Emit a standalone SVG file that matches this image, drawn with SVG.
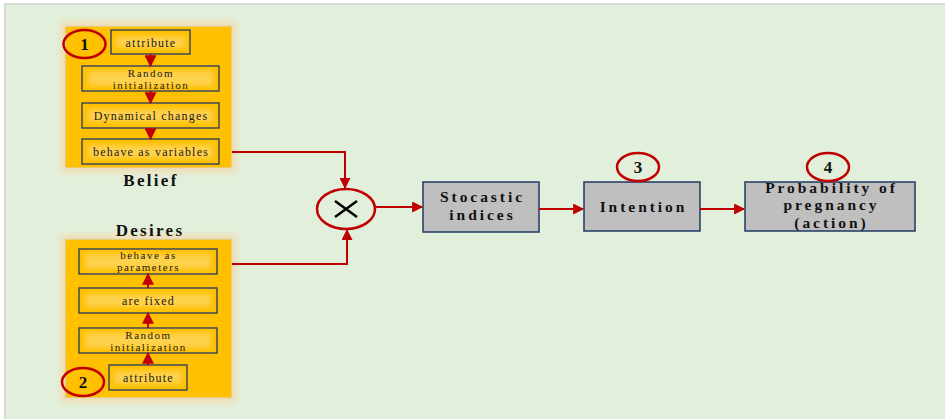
<svg xmlns="http://www.w3.org/2000/svg" width="945" height="419" viewBox="0 0 945 419">
  <style>
    .panel { fill: #FFC000; stroke: #d9d9d9; stroke-width: 1; }
    .step { fill: #FFC000; stroke: #1F3864; stroke-width: 1.3; }
    .stepglow { fill: #FFD24D; }
    .stage { fill: #BFBFBF; stroke: #1F3864; stroke-width: 1.5; }
    .badge { fill: none; stroke: #C00000; stroke-width: 2.5; }
    .link { fill: none; stroke: #C00000; stroke-width: 2; }
    .small { font-family: "Liberation Serif", "Times New Roman", serif; font-size: 12px; letter-spacing: 1.2px; fill: #1a1a1a; text-anchor: middle; }
    .pair { font-size: 11px; letter-spacing: 1.5px; }
    .bold { font-family: "Liberation Serif", "Times New Roman", serif; font-weight: bold; font-size: 17px; letter-spacing: 2.3px; fill: #111; text-anchor: middle; }
    .stagetext { font-size: 15.5px; letter-spacing: 2.95px; }
    .num { font-family: "Liberation Serif", "Times New Roman", serif; font-weight: bold; font-size: 17px; fill: #111; text-anchor: middle; }
  </style>
  <defs>
    <marker id="arrow" viewBox="0 0 10 10" refX="9" refY="5" markerWidth="6.5" markerHeight="5.5" orient="auto">
      <path d="M0,0 L10,5 L0,10 z" fill="#C00000"/>
    </marker>
    <marker id="arrowSm" viewBox="0 0 10 10" refX="9" refY="5" markerWidth="6" markerHeight="6" orient="auto">
      <path d="M0,0 L10,5 L0,10 z" fill="#C00000"/>
    </marker>
    <filter id="halo" x="-20%" y="-20%" width="140%" height="140%">
      <feGaussianBlur stdDeviation="3"/>
    </filter>
    <filter id="soft" x="-10%" y="-30%" width="120%" height="160%">
      <feGaussianBlur stdDeviation="2.5"/>
    </filter>
  </defs>

  <!-- canvas -->
  <rect x="0" y="0" width="945" height="419" fill="#ffffff"/>
  <rect x="5" y="4" width="945" height="420" fill="#E2EFDA" stroke="#cfcfcf" stroke-width="1.5"/>

  <!-- Belief panel -->
  <g id="belief">
    <rect x="61" y="22" width="175" height="150" fill="#f2dcb0" filter="url(#halo)"/>
    <rect class="panel" x="65" y="26" width="167" height="142"/>
    <g id="belief-attribute">
      <rect class="step" x="111" y="30" width="79" height="24"/>
      <rect class="stepglow" x="116" y="36" width="69" height="12" filter="url(#soft)"/>
      <text class="small" x="151" y="46.5">attribute</text>
    </g>
    <g id="belief-random">
      <rect class="step" x="82" y="66" width="137" height="25"/>
      <rect class="stepglow" x="88" y="71" width="125" height="15" filter="url(#soft)"/>
      <text class="small pair" x="151" y="76.5">Random</text>
      <text class="small pair" x="151" y="88.5">initialization</text>
    </g>
    <g id="belief-dynamic">
      <rect class="step" x="82" y="103" width="137" height="25"/>
      <rect class="stepglow" x="88" y="109" width="125" height="13" filter="url(#soft)"/>
      <text class="small" x="151" y="119.5">Dynamical changes</text>
    </g>
    <g id="belief-variables">
      <rect class="step" x="82" y="139" width="137" height="25"/>
      <rect class="stepglow" x="88" y="145" width="125" height="13" filter="url(#soft)"/>
      <text class="small" x="151" y="155.5">behave as variables</text>
    </g>
    <g id="badge-1">
      <ellipse class="badge" cx="84.5" cy="44" rx="21" ry="14"/>
      <text class="num" x="84.5" y="50">1</text>
    </g>
    <text class="bold" x="151" y="186">Belief</text>
  </g>

  <!-- Desires panel -->
  <g id="desires">
    <rect x="61" y="235" width="175" height="167" fill="#f2dcb0" filter="url(#halo)"/>
    <rect class="panel" x="65" y="239" width="167" height="159"/>
    <text class="bold" x="150" y="235.5">Desires</text>
    <g id="desires-parameters">
      <rect class="step" x="79" y="249" width="138" height="25"/>
      <rect class="stepglow" x="85" y="254" width="126" height="15" filter="url(#soft)"/>
      <text class="small pair" x="148.5" y="259">behave as</text>
      <text class="small pair" x="148.5" y="271">parameters</text>
    </g>
    <g id="desires-fixed">
      <rect class="step" x="79" y="288" width="138" height="25"/>
      <rect class="stepglow" x="85" y="294" width="126" height="13" filter="url(#soft)"/>
      <text class="small" x="148.5" y="304.5">are fixed</text>
    </g>
    <g id="desires-random">
      <rect class="step" x="79" y="328" width="138" height="25"/>
      <rect class="stepglow" x="85" y="333" width="126" height="15" filter="url(#soft)"/>
      <text class="small pair" x="148.5" y="338.5">Random</text>
      <text class="small pair" x="148.5" y="350.5">initialization</text>
    </g>
    <g id="desires-attribute">
      <rect class="step" x="109" y="365" width="78" height="25"/>
      <rect class="stepglow" x="114" y="371" width="68" height="13" filter="url(#soft)"/>
      <text class="small" x="148.5" y="381.5">attribute</text>
    </g>
    <g id="badge-2">
      <ellipse class="badge" cx="83" cy="382" rx="21" ry="14"/>
      <text class="num" x="83" y="388">2</text>
    </g>
  </g>

  <!-- product node -->
  <g id="product">
    <ellipse cx="346" cy="209" rx="29" ry="20" fill="#E2EFDA" stroke="#C00000" stroke-width="2.5"/>
    <path d="M335,201 L357,217 M357,201 L335,217" stroke="#000" stroke-width="2.5" fill="none"/>
  </g>

  <g id="stocastic">
    <rect class="stage" x="423" y="182" width="116" height="50"/>
    <text class="bold stagetext" x="482.5" y="202">Stocastic</text>
    <text class="bold stagetext" x="482.5" y="219.5">indices</text>
  </g>

  <g id="intention">
    <rect class="stage" x="584" y="182" width="116" height="49"/>
    <text class="bold stagetext" x="643.5" y="211.5">Intention</text>
    <ellipse class="badge" cx="638" cy="167" rx="21" ry="14"/>
    <text class="num" x="638" y="173">3</text>
  </g>

  <g id="probability">
    <rect class="stage" x="745" y="182" width="170" height="49"/>
    <text class="bold stagetext" x="831.5" y="193">Probability of</text>
    <text class="bold stagetext" x="831.5" y="210.3">pregnancy</text>
    <text class="bold stagetext" x="831.5" y="227.6">(action)</text>
    <ellipse class="badge" cx="828" cy="167" rx="21" ry="14"/>
    <text class="num" x="828" y="173">4</text>
  </g>

  <!-- connectors -->
  <g id="connectors">
    <path class="link" d="M150.5,54 V66" marker-end="url(#arrowSm)" stroke-width="1.5"/>
    <path class="link" d="M150.5,91 V103" marker-end="url(#arrowSm)" stroke-width="1.5"/>
    <path class="link" d="M150.5,128 V139" marker-end="url(#arrowSm)" stroke-width="1.5"/>
    <path class="link" d="M148,365 V353" marker-end="url(#arrowSm)" stroke-width="1.5"/>
    <path class="link" d="M148,328 V313" marker-end="url(#arrowSm)" stroke-width="1.5"/>
    <path class="link" d="M148,288 V274" marker-end="url(#arrowSm)" stroke-width="1.5"/>
    <path class="link" d="M232,152 H345 V188" marker-end="url(#arrow)"/>
    <path class="link" d="M232,264 H347 V230" marker-end="url(#arrow)"/>
    <path class="link" d="M375,207 H422" marker-end="url(#arrow)"/>
    <path class="link" d="M539,209 H583" marker-end="url(#arrow)"/>
    <path class="link" d="M700,209 H744" marker-end="url(#arrow)"/>
  </g>
</svg>
